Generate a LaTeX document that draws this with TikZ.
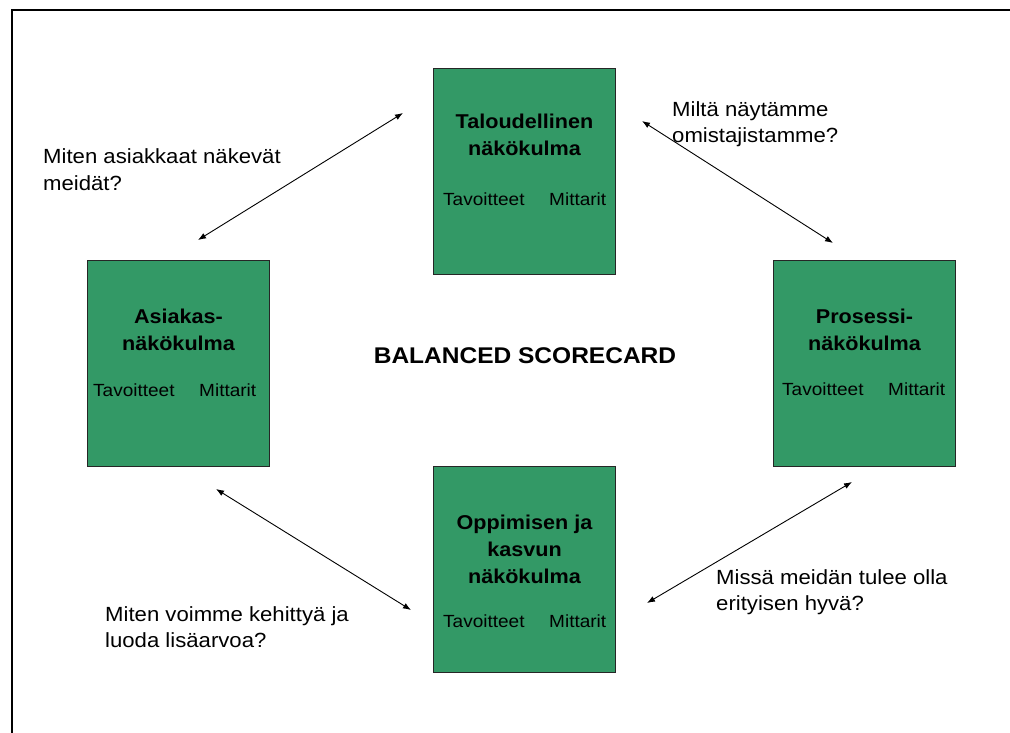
\documentclass[tikz,border=0pt]{standalone}
\usepackage{fontspec}
\setmainfont[FakeStretch=1.08]{Liberation Sans}
\usetikzlibrary{arrows.meta,calc}
\definecolor{bscgreen}{HTML}{339966}
\tikzset{
  perspective/.style={draw=black!85, line width=1pt, fill=bscgreen,
    minimum width=182pt, minimum height=206pt, inner sep=0pt, anchor=north west},
  boxtitle/.style={font=\fontsize{20}{27}\selectfont\bfseries, anchor=base, inner sep=0pt},
  boxitem/.style={font=\fontsize{17.6}{22}\selectfont, anchor=base west, inner sep=0pt},
  question/.style={font=\fontsize{20.5}{26}\selectfont, anchor=base west, inner sep=0pt},
  link/.style={line width=0.9pt, {Latex[length=8pt,width=6pt]}-{Latex[length=8pt,width=6pt]}}
}
\begin{document}
\begin{tikzpicture}[x=1pt,y=-1pt]
\useasboundingbox (0,0) rectangle (1010,733);
% page frame
\draw[line width=2.6pt] (12,733) -- (12,10) -- (1010,10);

% the four perspectives
\node[perspective] (fin)  at (433,68)  {};
\node[perspective] (cust) at (87,260)  {};
\node[perspective] (proc) at (773,260) {};
\node[perspective] (learn) at (433,466) {};

% financial
\node[boxtitle] (finA) at ($(fin.north)+(0,61)$) {Taloudellinen};
\node[boxtitle] (finB) at ($(fin.north)+(0,88)$) {näkökulma};
\node[boxitem] (finT) at (443,205) {Tavoitteet};
\node[boxitem] (finM) at (549,205) {Mittarit};

% customer
\node[boxtitle] (custA) at ($(cust.north)+(0,63)$) {Asiakas-};
\node[boxtitle] (custB) at ($(cust.north)+(0,90)$) {näkökulma};
\node[boxitem] (custT) at (93,396) {Tavoitteet};
\node[boxitem] (custM) at (199,396) {Mittarit};

% internal process
\node[boxtitle] (procA) at ($(proc.north)+(0,63)$) {Prosessi-};
\node[boxtitle] (procB) at ($(proc.north)+(0,90)$) {näkökulma};
\node[boxitem] (procT) at (782,395) {Tavoitteet};
\node[boxitem] (procM) at (888,395) {Mittarit};

% learning and growth
\node[boxtitle] (learnA) at ($(learn.north)+(0,63)$) {Oppimisen ja};
\node[boxtitle] (learnB) at ($(learn.north)+(0,90)$) {kasvun};
\node[boxtitle] (learnC) at ($(learn.north)+(0,117)$) {näkökulma};
\node[boxitem] (learnT) at (443,627) {Tavoitteet};
\node[boxitem] (learnM) at (549,627) {Mittarit};

% centre title
\node[font=\fontsize{22.7}{27}\selectfont\bfseries, anchor=base, inner sep=0pt]
  (bsc) at (525,363) {BALANCED SCORECARD};

% questions
\node[question] (q1a) at (43,164) {Miten asiakkaat näkevät};
\node[question] (q1b) at (43,190) {meidät?};
\node[question] (q2a) at (672,117) {Miltä näytämme};
\node[question] (q2b) at (672,143) {omistajistamme?};
\node[question] (q3a) at (105,621) {Miten voimme kehittyä ja};
\node[question] (q3b) at (105,647) {luoda lisäarvoa?};
\node[question] (q4a) at (716,584) {Missä meidän tulee olla};
\node[question] (q4b) at (716,610) {erityisen hyvä?};

% arrow end points
\coordinate (a1s) at (198,240);
\coordinate (a1e) at (403,113);
\coordinate (a2s) at (642,121);
\coordinate (a2e) at (833,243);
\coordinate (a3s) at (216,489);
\coordinate (a3e) at (411,610);
\coordinate (a4s) at (647,603);
\coordinate (a4e) at (852,482);

\draw[link] (a1s) -- (a1e);
\draw[link] (a2s) -- (a2e);
\draw[link] (a3s) -- (a3e);
\draw[link] (a4s) -- (a4e);
\end{tikzpicture}
\end{document}
